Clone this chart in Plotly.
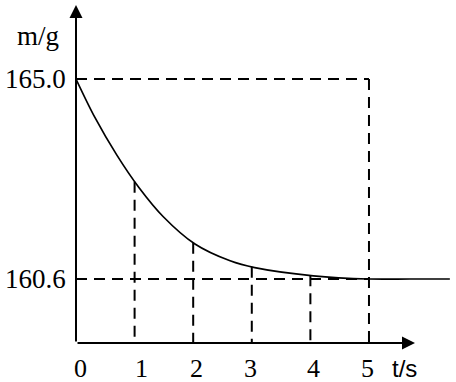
import plotly.graph_objects as go

# ---- data ----
t_curve = [0, 0.32, 0.7, 1.07, 1.49, 2.03, 2.63, 3.05, 4.05, 5, 5.7, 6.38]
m_curve = [165.0, 164.16, 163.32, 162.62, 161.97, 161.37, 161.0, 160.85, 160.67, 160.6, 160.6, 160.6]
t_marks = [1, 2, 3, 4]
m_marks = [162.74, 161.4, 160.87, 160.68]
x_tick_vals = [0, 1, 2, 3, 4, 5]
x_tick_text = ["0", "1", "2", "3", "4", "5"]
y_tick_vals = [165.0, 160.6]
y_tick_text = ["165.0", "160.6"]
t_end = 5
x_title = "t/s"
y_title = "m/g"

# ---- layout constants ----
X_MIN, X_MAX = 0, 6.485
Y_MIN, Y_MAX = 159.192, 166.738
X_ARROW = 5.785
Y_ARROW = 166.63
SERIF = "Liberation Serif, Times New Roman, serif"
SANS = "Liberation Sans, Arial, sans-serif"
DASH = "11px,7px"
X_LABEL_SHIFTS = [4, 7, 3, -1, 3, -1]

fig = go.Figure()

# main curve
fig.add_trace(go.Scatter(x=t_curve, y=m_curve, mode="lines",
                         line=dict(color="black", width=1.7, shape="spline", smoothing=0.9),
                         hoverinfo="skip", showlegend=False))

shapes = []
for yv in y_tick_vals:
    shapes.append(dict(type="line", xref="x", yref="y", x0=0, x1=t_end, y0=yv, y1=yv,
                       line=dict(color="black", width=2, dash=DASH)))
shapes.append(dict(type="line", xref="x", yref="y", x0=t_end, x1=t_end,
                   y0=y_tick_vals[0], y1=Y_MIN,
                   line=dict(color="black", width=2, dash=DASH)))
for tv, mv in zip(t_marks, m_marks):
    shapes.append(dict(type="line", xref="x", yref="y", x0=tv, x1=tv, y0=mv, y1=Y_MIN,
                       line=dict(color="black", width=2, dash=DASH)))

annotations = []
annotations.append(dict(x=X_ARROW, y=Y_MIN, ax=0, ay=Y_MIN, xref="x", yref="y",
                        axref="x", ayref="y", text="", showarrow=True,
                        arrowhead=2, arrowsize=1.3, arrowwidth=2, arrowcolor="black"))
annotations.append(dict(x=0, y=Y_ARROW, ax=0, ay=Y_MIN, xref="x", yref="y",
                        axref="x", ayref="y", text="", showarrow=True,
                        arrowhead=2, arrowsize=1.3, arrowwidth=2, arrowcolor="black"))

for tv, tt, sh in zip(x_tick_vals, x_tick_text, X_LABEL_SHIFTS):
    annotations.append(dict(x=tv, y=Y_MIN, xref="x", yref="y", text=tt, showarrow=False,
                            xanchor="center", yanchor="middle", yshift=-25, xshift=sh,
                            font=dict(family=SERIF, size=26, color="black")))
annotations.append(dict(x=X_ARROW, y=Y_MIN, xref="x", yref="y", text=x_title, showarrow=False,
                        xanchor="right", yanchor="middle", yshift=-25, xshift=4,
                        font=dict(family=SANS, size=24, color="black")))
for yv, yt in zip(y_tick_vals, y_tick_text):
    annotations.append(dict(x=0, y=yv, xref="x", yref="y", text=yt, showarrow=False,
                            xanchor="right", yanchor="middle", xshift=-8,
                            font=dict(family=SERIF, size=27, color="black")))
annotations.append(dict(x=0, y=Y_ARROW, xref="x", yref="y", text=y_title, showarrow=False,
                        xanchor="center", yanchor="top", xshift=-38, yshift=-14,
                        font=dict(family=SERIF, size=27, color="black")))

fig.update_layout(
    width=456, height=382,
    margin=dict(l=76, r=0, t=0, b=39),
    paper_bgcolor="white", plot_bgcolor="white",
    xaxis=dict(range=[X_MIN, X_MAX], visible=False, fixedrange=True),
    yaxis=dict(range=[Y_MIN, Y_MAX], visible=False, fixedrange=True),
    shapes=shapes, annotations=annotations, showlegend=False,
)

fig.write_html("out.html")
